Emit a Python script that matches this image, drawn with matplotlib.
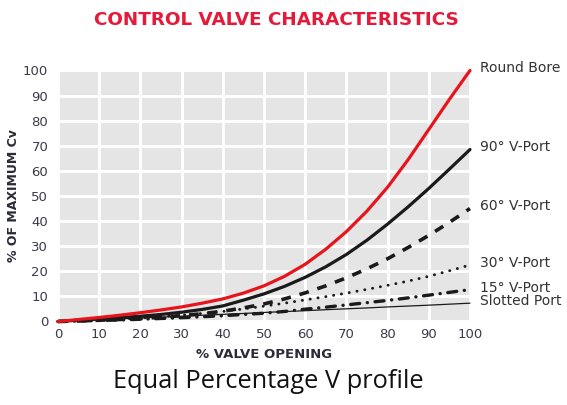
import matplotlib
matplotlib.use("Agg")
import matplotlib.pyplot as plt

# ---- data ----
opening = [0, 5, 10, 15, 20, 25, 30, 35, 40, 45, 50, 55, 60, 65, 70, 75, 80, 85, 90, 95, 100]
round_bore = [0, 0.8, 1.6, 2.5, 3.5, 4.6, 5.8, 7.3, 9.0, 11.3, 14.2, 18.0, 22.8, 28.8, 35.8, 44.0, 53.5, 64.5, 76.5, 88.5, 100.0]
vport_90 = [0, 0.5, 1.0, 1.5, 2.1, 2.8, 3.7, 4.8, 6.2, 8.5, 11.0, 14.0, 17.6, 21.8, 26.7, 32.4, 38.8, 45.7, 53.0, 60.7, 68.5]
vport_60 = [0, 0.2, 0.5, 0.8, 1.2, 1.7, 2.3, 3.1, 4.1, 5.4, 7.0, 9.0, 11.4, 14.2, 17.4, 21.0, 25.0, 29.5, 34.3, 39.5, 45.0]
vport_30 = [0, 0.3, 0.6, 1.0, 1.4, 1.9, 2.5, 3.2, 4.0, 5.0, 6.1, 7.3, 8.6, 9.9, 11.3, 12.8, 14.4, 16.1, 18.0, 20.2, 22.5]
vport_15 = [0, 0.2, 0.4, 0.6, 0.9, 1.2, 1.5, 1.9, 2.3, 2.8, 3.3, 4.0, 4.9, 5.7, 6.6, 7.5, 8.4, 9.4, 10.5, 11.6, 12.7]
slotted = [0, 0.35, 0.7, 1.05, 1.4, 1.75, 2.1, 2.5, 2.85, 3.2, 3.6, 3.95, 4.3, 4.7, 5.05, 5.4, 5.8, 6.15, 6.5, 6.9, 7.3]

series_names = ["Slotted Port", "15° V-Port", "30° V-Port", "60° V-Port", "90° V-Port", "Round Bore"]
x_ticks = [0, 10, 20, 30, 40, 50, 60, 70, 80, 90, 100]
y_ticks = [0, 10, 20, 30, 40, 50, 60, 70, 80, 90, 100]

title = "CONTROL VALVE CHARACTERISTICS"
x_label = "% VALVE OPENING"
y_label = "% OF MAXIMUM Cv"
caption = "Equal Percentage V profile"

plt.rcParams["lines.scale_dashes"] = False
plt.rcParams["font.family"] = ["DejaVu Sans"]

fig = plt.figure(figsize=(5.67, 4.05), dpi=100)
ax = fig.add_axes([0.1023, 0.2062, 0.7266, 0.6198])
ax.set_facecolor("#e5e5e5")
for s in ax.spines.values():
    s.set_visible(False)

ax.set_xlim(0, 100)
ax.set_ylim(0, 100)
ax.set_xticks(x_ticks)
ax.set_yticks(y_ticks)
ax.grid(True, color="white", linewidth=2.0)
ax.set_axisbelow(True)
ax.tick_params(length=0, labelsize=9.5, colors="#3b3b4a")
ax.tick_params(axis="y", pad=7)
ax.tick_params(axis="x", pad=5)

data = [slotted, vport_15, vport_30, vport_60, vport_90, round_bore]
styles = [
    dict(color="#1a1a1a", lw=0.9, ls="-"),
    dict(color="#1a1a1a", lw=2.4, ls=(0, (6.5, 5.5, 0.1, 5.5)), dash_capstyle="round"),
    dict(color="#1a1a1a", lw=2.1, ls=(0, (0.1, 5.6)), dash_capstyle="round"),
    dict(color="#1a1a1a", lw=2.6, ls=(0, (7.0, 6.5)), dash_capstyle="butt"),
    dict(color="#1a1a1a", lw=2.3, ls="-"),
    dict(color="#e8141c", lw=2.3, ls="-"),
]
for name, ys, st in zip(series_names, data, styles):
    ax.plot(opening, ys, clip_on=False, solid_capstyle="round", **st)
    ax.annotate(name, xy=(opening[-1], ys[-1]), xytext=(7, 1.5), textcoords="offset points",
                ha="left", va="center", fontsize=10, color="#333333",
                annotation_clip=False)

ax.set_xlabel(x_label, fontsize=9.5, fontweight="bold", color="#2b2b38", labelpad=5)
ax.set_ylabel(y_label, fontsize=9, fontweight="bold", color="#2b2b38", labelpad=2)

fig.text(0.488, 0.951, title, ha="center", va="center", fontsize=13.2,
         fontweight="bold", color="#e51a3a")
fig.text(0.474, 0.059, caption, ha="center", va="center", fontsize=18.3,
         color="#111111", family=["Open Sans", "DejaVu Sans"])

fig.savefig("out.png", dpi=100)
